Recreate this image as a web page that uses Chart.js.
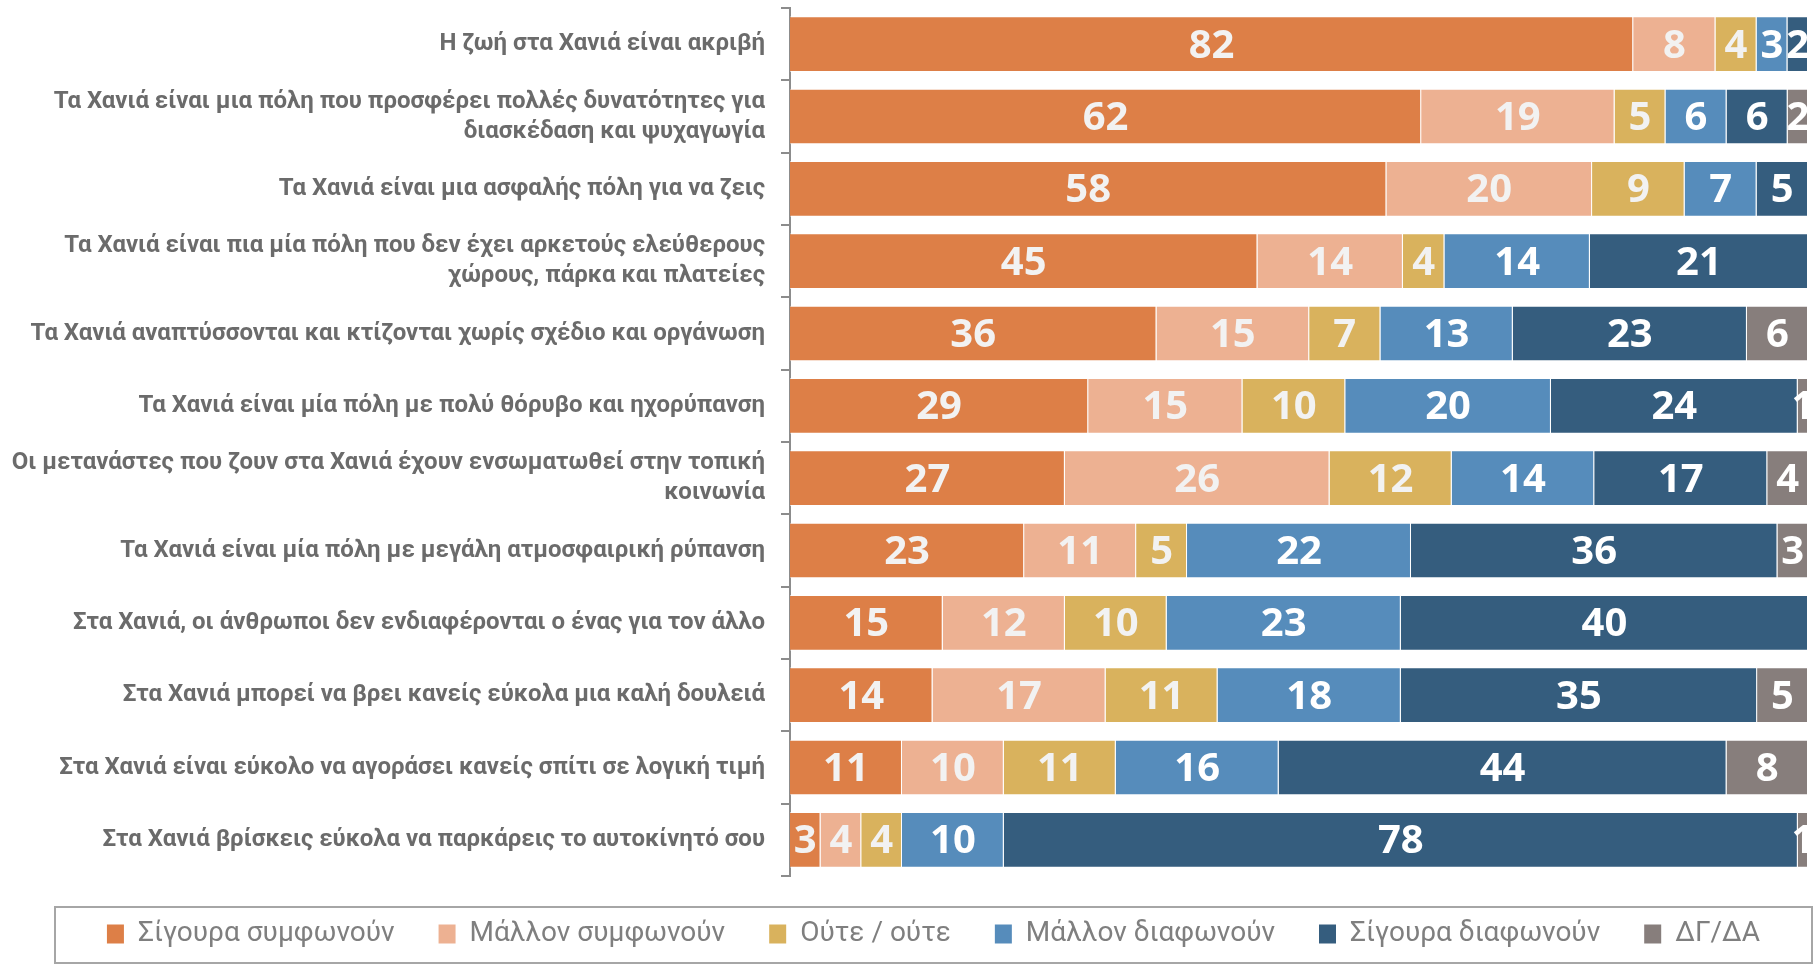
<!DOCTYPE html>
<html lang="el">
<head>
    <meta charset="UTF-8">
    <title>Χανιά - απόψεις</title>
    <script src="https://cdn.jsdelivr.net/npm/chart.js"></script>
    <style>
        body { margin: 0; background: #ffffff; }
        #wrap { width: 1816px; height: 966px; position: relative; }
    </style>
</head>
<body>
    <div id="wrap"><canvas id="chart"></canvas></div>

    <script>
        const statements = [
            "Η ζωή στα Χανιά είναι ακριβή",
            ["Τα Χανιά είναι μια πόλη που προσφέρει πολλές δυνατότητες για", "διασκέδαση και ψυχαγωγία"],
            "Τα Χανιά είναι μια ασφαλής πόλη για να ζεις",
            ["Τα Χανιά είναι πια μία πόλη που δεν έχει αρκετούς ελεύθερους", "χώρους, πάρκα και πλατείες"],
            "Τα Χανιά αναπτύσσονται και κτίζονται χωρίς σχέδιο και οργάνωση",
            "Τα Χανιά είναι μία πόλη με πολύ θόρυβο και ηχορύπανση",
            ["Οι μετανάστες που ζουν στα Χανιά έχουν ενσωματωθεί στην τοπική", "κοινωνία"],
            "Τα Χανιά είναι μία πόλη με μεγάλη ατμοσφαιρική ρύπανση",
            "Στα Χανιά, οι άνθρωποι δεν ενδιαφέρονται ο ένας για τον άλλο",
            "Στα Χανιά μπορεί να βρει κανείς εύκολα μια καλή δουλειά",
            "Στα Χανιά είναι εύκολο να αγοράσει κανείς σπίτι σε λογική τιμή",
            "Στα Χανιά βρίσκεις εύκολα να παρκάρεις το αυτοκίνητό σου"
        ];

        const seriesNames = ["Σίγουρα συμφωνούν", "Μάλλον συμφωνούν", "Ούτε / ούτε", "Μάλλον διαφωνούν", "Σίγουρα διαφωνούν", "ΔΓ/ΔΑ"];

        const agreeSure      = [82, 62, 58, 45, 36, 29, 27, 23, 15, 14, 11, 3];
        const agreeRather    = [8, 19, 20, 14, 15, 15, 26, 11, 12, 17, 10, 4];
        const neither        = [4, 5, 9, 4, 7, 10, 12, 5, 10, 11, 11, 4];
        const disagreeRather = [3, 6, 7, 14, 13, 20, 14, 22, 23, 18, 16, 10];
        const disagreeSure   = [2, 6, 5, 21, 23, 24, 17, 36, 40, 35, 44, 78];
        const dontKnow       = [null, 2, null, null, 6, 1, 4, 3, null, 5, 8, 1];

        const colors = ["#DD7F47", "#EDB192", "#D9B25D", "#568CBB", "#355D7E", "#877E7C"];

        const allSeries = [agreeSure, agreeRather, neither, disagreeRather, disagreeSure, dontKnow];

        // 100% stacked like the original: every row is scaled to its own total
        const rowTotals = statements.map((s, i) => allSeries.reduce((t, arr) => t + (arr[i] || 0), 0));

        const labelFont = 'Roboto, "Noto Sans", sans-serif';

        const datasets = allSeries.map((arr, k) => ({
            label: seriesNames[k],
            raw: arr,
            data: arr.map((v, i) => v == null ? null : v / rowTotals[i] * 100),
            backgroundColor: colors[k],
            borderColor: "rgba(255,255,255,0.55)",
            borderWidth: 1,
            categoryPercentage: 0.77,
            barPercentage: 1
        }));

        // value labels in the middle of each segment
        const segmentLabels = {
            id: "segmentLabels",
            afterDatasetsDraw(chart) {
                const ctx = chart.ctx;
                const area = chart.chartArea;
                ctx.save();
                ctx.beginPath();
                ctx.rect(area.left, area.top, area.right - area.left, area.bottom - area.top);
                ctx.clip();
                ctx.font = 'bold 40px "Open Sans", "Noto Sans", sans-serif';
                ctx.textAlign = "center";
                ctx.textBaseline = "middle";
                chart.data.datasets.forEach((ds, k) => {
                    const meta = chart.getDatasetMeta(k);
                    meta.data.forEach((bar, i) => {
                        const v = ds.raw[i];
                        if (v == null) return;
                        ctx.fillStyle = k >= 3 ? "#ffffff" : "#f2f2f2";
                        ctx.fillText(String(v), (bar.x + bar.base) / 2, bar.y + 2);
                    });
                });
                ctx.restore();
            }
        };

        // legend sits centred in its framed box, not in the full canvas width
        const legendFrame = {
            id: "legendFrame",
            afterLayout(chart) {
                chart.legend.left = 59;
                chart.legend.right = 1808;
            },
            afterDraw(chart) {
                const ctx = chart.ctx;
                ctx.save();
                ctx.strokeStyle = "#a6a6a6";
                ctx.lineWidth = 2;
                ctx.strokeRect(55, 907, 1757, 56);
                ctx.restore();
            }
        };

        new Chart(document.getElementById("chart"), {
            type: "bar",
            data: { labels: statements, datasets: datasets },
            options: {
                indexAxis: "y",
                responsive: true,
                maintainAspectRatio: false,
                animation: false,
                layout: { padding: { left: 0, right: 8, top: 8, bottom: 8 } },
                scales: {
                    x: {
                        stacked: true,
                        display: false,
                        min: 0,
                        max: 100
                    },
                    y: {
                        stacked: true,
                        afterFit(scale) {
                            scale.width = 790;
                            scale.paddingTop = 0;
                            scale.paddingBottom = 0;
                        },
                        border: { display: true, color: "#8c8c8c", width: 2 },
                        grid: { drawOnChartArea: false, drawTicks: true, tickLength: 9, color: "#8c8c8c", lineWidth: 2 },
                        ticks: {
                            color: "#6b6b6b",
                            padding: 16,
                            font: { family: labelFont, size: 24, weight: "bold", lineHeight: 1.25 }
                        }
                    }
                },
                plugins: {
                    tooltip: { enabled: false },
                    legend: {
                        position: "bottom",
                        labels: {
                            color: "#7f7f7f",
                            boxWidth: 17,
                            boxHeight: 19,
                            padding: 44,
                            font: { family: labelFont, size: 28 },
                            generateLabels(chart) {
                                return chart.data.datasets.map((ds, k) => ({
                                    text: ds.label,
                                    fillStyle: ds.backgroundColor,
                                    strokeStyle: ds.backgroundColor,
                                    lineWidth: 0,
                                    fontColor: "#7f7f7f",
                                    datasetIndex: k
                                }));
                            }
                        }
                    }
                }
            },
            plugins: [segmentLabels, legendFrame]
        });
    </script>
</body>
</html>
